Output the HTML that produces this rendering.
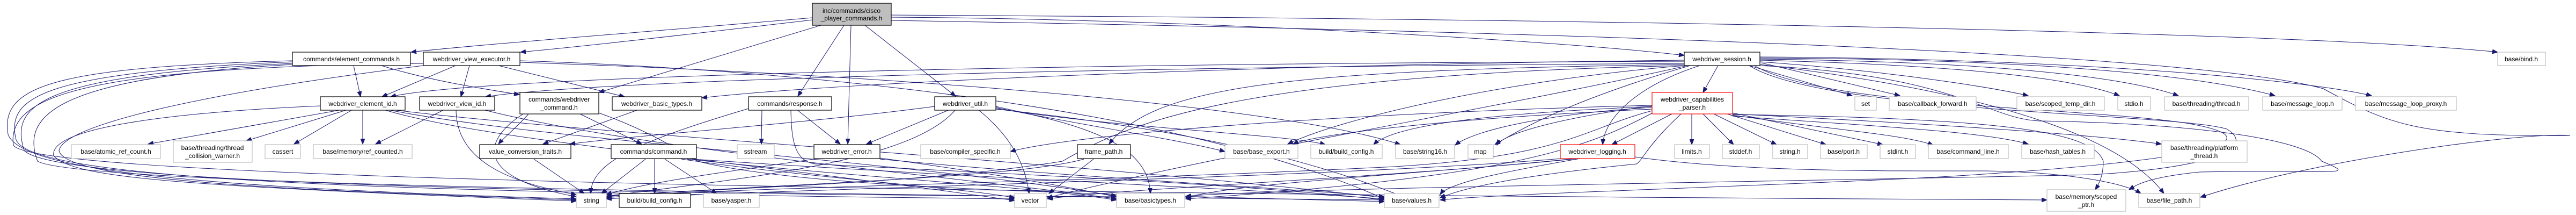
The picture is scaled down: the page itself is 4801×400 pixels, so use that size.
<!DOCTYPE html>
<html><head><meta charset="utf-8"><style>
html,body{margin:0;padding:0;background:#fff;}
svg{display:block;}
text{font-family:"Liberation Sans",sans-serif;font-size:12px;fill:#000;text-anchor:middle;}
.g{fill:#fff;stroke:#bfbfbf;stroke-width:1.2;}
.b{fill:#fff;stroke:#000;stroke-width:1.2;}
.r{fill:#fff;stroke:#ff0000;stroke-width:1.2;}
.e path{fill:none;stroke:#191970;stroke-width:1;marker-end:url(#a);}
</style></head><body>
<svg width="4801" height="400" viewBox="0 0 4801 400" xmlns="http://www.w3.org/2000/svg">
<defs><marker id="a" markerUnits="userSpaceOnUse" markerWidth="11" markerHeight="8" refX="10" refY="4" orient="auto"><path d="M0,0 L10,4 L0,8 z" fill="#191970" stroke="#191970"/></marker></defs>
<g class="e">
<!-- top node -->
<path d="M1514,33 C1200,60 900,82 766,97"/>
<path d="M1514,37 C1300,62 1100,85 970,97"/>
<path d="M1530,47 L1116,172"/>
<path d="M1573,47 L1487,179"/>
<path d="M1586,47 L1580,268"/>
<path d="M1612,47 L1781,179"/>
<path d="M1661,32 C2200,35 2900,75 3139,103"/>
<path d="M1661,28 C3000,35 4300,60 4655,97"/>
<path d="M1661,38 C3000,60 4100,100 4330,165 C4450,230 4500,255 4790,252 C4700,245 4300,300 4101,367"/>
<!-- element_commands -->
<path d="M659,122 L672,180"/>
<path d="M711,122 C800,150 900,165 968,176"/>
<path d="M545,113 C100,125 0,160 15,250 C40,320 400,350 1074,370"/>
<path d="M545,115 C80,135 10,180 30,260 C60,340 800,358 1891,370"/>
<path d="M545,118 C60,140 20,200 45,280 C100,340 1000,360 2081,366"/>
<path d="M545,120 C90,145 40,220 70,300 C150,345 1500,362 2580,372"/>
<!-- view executor -->
<path d="M849,122 L712,180"/>
<path d="M875,122 L859,180"/>
<path d="M929,122 L1164,180"/>
<path d="M789,122 C400,170 120,230 110,280 C120,340 600,355 1074,372"/>
<path d="M789,118 C200,125 10,170 25,270 C60,345 2500,365 3815,372"/>
<path d="M969,113 C1500,130 2200,200 2580,370"/>
<path d="M969,116 C1700,140 2400,200 2610,269"/>
<!-- element_id -->
<path d="M638,204 L276,268"/>
<path d="M648,204 L459,262"/>
<path d="M657,204 L548,268"/>
<path d="M676,204 L676,268"/>
<path d="M597,197 C300,210 90,240 100,290 C140,330 300,345 1074,374"/>
<path d="M715,204 C900,260 1300,290 1891,373"/>
<path d="M722,204 C1000,260 1700,300 2081,365"/>
<path d="M730,204 C1100,250 2000,300 2580,368"/>
<!-- view_id -->
<path d="M828,204 L700,268"/>
<path d="M850,204 C850,300 950,340 1074,362"/>
<path d="M900,204 C1200,280 1800,330 2081,370"/>
<!-- webdriver_command -->
<path d="M1081,212 L1196,268"/>
<path d="M985,212 C960,240 940,255 929,268"/>
<path d="M1116,210 C1200,240 1250,270 1300,300 C1500,350 2000,360 2580,375"/>
<path d="M975,212 C900,260 880,330 1074,366"/>
<!-- basic types / response / util -->
<path d="M1190,204 L1012,268"/>
<path d="M1395,202 C1200,260 1101,300 1101,360"/>
<path d="M1420,204 L1419,268"/>
<path d="M1485,204 L1566,268"/>
<path d="M1474,204 C1475,260 1480,300 1520,305 C1800,320 2300,340 2580,372"/>
<path d="M1770,204 L1615,268"/>
<path d="M1742,198 C1500,230 1200,250 1062,268"/>
<path d="M1781,204 C1700,300 1400,330 1130,365"/>
<path d="M1823,204 C1880,250 1910,300 1918,360"/>
<path d="M1856,198 C2000,230 2140,260 2144,360"/>
<path d="M1856,200 C2000,230 2200,260 2283,282"/>
<path d="M1856,202 C2100,240 2400,250 2470,269"/>
<path d="M1856,203 C2300,250 2500,320 2620,368"/>
<!-- command.h etc -->
<path d="M1203,296 L1121,360"/>
<path d="M1220,296 L1220,360"/>
<path d="M1239,296 L1336,360"/>
<path d="M1270,296 C1500,330 1800,350 1891,368"/>
<path d="M1280,296 C1600,330 1900,345 2081,372"/>
<path d="M1290,296 C1800,330 2300,350 2580,370"/>
<path d="M995,296 L1089,360"/>
<path d="M1517,296 C1350,320 1200,340 1130,362"/>
<path d="M1640,294 C1900,330 2000,350 2081,366"/>
<path d="M1640,296 C2000,330 2400,350 2580,366"/>
<path d="M2038,296 L1955,360"/>
<path d="M2020,296 C1900,330 1500,340 1130,365"/>
<!-- session -->
<path d="M3202,122 L3174,172"/>
<path d="M3168,122 C3050,160 2990,220 2987,269"/>
<path d="M3260,122 L3452,178"/>
<path d="M3283,117 L3541,178"/>
<path d="M3280,115 C3500,130 3700,160 3780,178"/>
<path d="M3280,112 C3600,120 3850,140 3950,178"/>
<path d="M3280,110 C3700,115 3950,140 4060,178"/>
<path d="M3280,108 C3800,110 4100,140 4240,178"/>
<path d="M3280,106 C3900,110 4300,150 4420,178"/>
<path d="M3150,122 C2950,180 2850,230 2786,269"/>
<path d="M3139,112 C2400,120 1600,150 1308,182"/>
<path d="M3139,114 C2000,118 900,140 728,180"/>
<path d="M3139,118 C2000,125 1100,150 905,180"/>
<path d="M3139,120 C2400,130 2150,160 2067,268"/>
<path d="M3139,122 C2800,150 2500,220 2400,268"/>
<path d="M3139,122 C2300,140 2100,230 1980,300 C1700,345 1300,350 1130,366"/>
<path d="M3145,122 C2800,200 2300,280 1952,368"/>
<path d="M3270,122 C3400,200 3900,200 4080,230 C4250,260 4120,300 3600,330 C3200,350 2800,360 2684,372"/>
<path d="M3260,122 C3400,210 4050,210 4150,240 C4200,270 4150,310 3900,325 C3200,340 2400,350 2210,365"/>
<path d="M3280,122 C3650,140 3700,220 3800,225 C4100,230 4300,260 4327,300 C4400,330 4350,315 4100,320 C4000,330 3980,345 3968,353"/>
<path d="M3280,120 C3700,170 3950,250 4033,360"/>
<!-- parser -->
<path d="M3116,212 L3004,269"/>
<path d="M3153,212 L3153,269"/>
<path d="M3174,212 L3231,269"/>
<path d="M3194,212 L3311,269"/>
<path d="M3219,212 L3403,269"/>
<path d="M3229,210 L3509,269"/>
<path d="M3229,214 C3400,240 3550,250 3603,270"/>
<path d="M3229,216 C3500,235 3700,245 3780,268"/>
<path d="M3229,212 C3600,230 3900,250 4028,268"/>
<path d="M3229,213 C3700,220 3900,240 3920,300 C3920,330 3910,345 3905,353"/>
<path d="M3079,197 C2900,220 2800,250 2790,270"/>
<path d="M3079,200 C2900,210 2750,240 2712,270"/>
<path d="M3079,198 C2800,210 2600,230 2560,269"/>
<path d="M3079,203 C2700,220 2450,250 2410,268"/>
<path d="M3079,196 C2500,210 2000,250 1883,282"/>
<path d="M3079,206 C2950,240 2920,290 2600,310 C2000,340 1300,350 1130,368"/>
<path d="M3133,212 C3070,270 3060,300 3050,305 C2900,320 2750,340 2684,368"/>
<path d="M3080,210 C2950,280 2800,330 2210,370"/>
<!-- logging -->
<path d="M2940,295 C2700,320 2300,340 2210,368"/>
<path d="M2935,295 C2600,330 2100,350 1952,370"/>
<path d="M2945,295 C2800,320 2700,340 2684,362"/>
<path d="M3047,292 C3250,320 3500,318 3700,318 C3850,320 3960,340 3990,360"/>
<path d="M2910,295 C2500,330 1500,350 1130,370"/>
</g>
<!-- nodes -->
<rect x="1514" y="6" width="147" height="41" fill="#bfbfbf" stroke="#000" stroke-width="1.2"/>
<text x="1587" y="24">inc/commands/cisco</text><text x="1587" y="38">_player_commands.h</text>

<rect class="b" x="545" y="97" width="220" height="25"/><text x="655" y="114">commands/element_commands.h</text>
<rect class="b" x="789" y="97" width="180" height="25"/><text x="879" y="114">webdriver_view_executor.h</text>
<rect class="b" x="3139" y="97" width="141" height="25"/><text x="3209" y="114">webdriver_session.h</text>
<rect class="g" x="4655" y="97" width="89" height="25"/><text x="4699" y="114">base/bind.h</text>

<rect class="b" x="597" y="180" width="158" height="25"/><text x="676" y="197">webdriver_element_id.h</text>
<rect class="b" x="782" y="180" width="140" height="25"/><text x="852" y="197">webdriver_view_id.h</text>
<rect class="b" x="969" y="172" width="147" height="40"/><text x="1042" y="189">commands/webdriver</text><text x="1042" y="204">_command.h</text>
<rect class="b" x="1141" y="180" width="167" height="25"/><text x="1224" y="197">webdriver_basic_types.h</text>
<rect class="b" x="1395" y="180" width="155" height="25"/><text x="1472" y="197">commands/response.h</text>
<rect class="b" x="1742" y="180" width="114" height="25"/><text x="1799" y="197">webdriver_util.h</text>
<rect class="r" x="3079" y="172" width="150" height="40"/><text x="3154" y="189">webdriver_capabilities</text><text x="3154" y="204">_parser.h</text>
<rect class="g" x="3457" y="180" width="40" height="25"/><text x="3477" y="197">set</text>
<rect class="g" x="3521" y="180" width="162" height="25"/><text x="3602" y="197">base/callback_forward.h</text>
<rect class="g" x="3759" y="180" width="163" height="25"/><text x="3840" y="197">base/scoped_temp_dir.h</text>
<rect class="g" x="3947" y="180" width="61" height="25"/><text x="3977" y="197">stdio.h</text>
<rect class="g" x="4034" y="180" width="157" height="25"/><text x="4112" y="197">base/threading/thread.h</text>
<rect class="g" x="4217" y="180" width="148" height="25"/><text x="4291" y="197">base/message_loop.h</text>
<rect class="g" x="4390" y="180" width="188" height="25"/><text x="4484" y="197">base/message_loop_proxy.h</text>

<rect class="g" x="133" y="269" width="166" height="26"/><text x="216" y="286">base/atomic_ref_count.h</text>
<rect class="g" x="323" y="262" width="147" height="40"/><text x="396" y="279">base/threading/thread</text><text x="396" y="294">_collision_warner.h</text>
<rect class="g" x="494" y="269" width="66" height="26"/><text x="527" y="286">cassert</text>
<rect class="g" x="584" y="269" width="184" height="26"/><text x="676" y="286">base/memory/ref_counted.h</text>
<rect class="b" x="894" y="269" width="170" height="26"/><text x="979" y="286">value_conversion_traits.h</text>
<rect class="b" x="1139" y="269" width="159" height="26"/><text x="1218" y="286">commands/command.h</text>
<rect class="g" x="1374" y="269" width="69" height="26"/><text x="1408" y="286">sstream</text>
<rect class="b" x="1517" y="269" width="123" height="26"/><text x="1578" y="286">webdriver_error.h</text>
<rect class="g" x="1716" y="269" width="167" height="26"/><text x="1799" y="286">base/compiler_specific.h</text>
<rect class="b" x="2008" y="269" width="99" height="26"/><text x="2057" y="286">frame_path.h</text>
<rect class="g" x="2283" y="269" width="136" height="26"/><text x="2351" y="286">base/base_export.h</text>
<rect class="g" x="2443" y="269" width="133" height="26"/><text x="2509" y="286">build/build_config.h</text>
<rect class="g" x="2601" y="269" width="110" height="26"/><text x="2656" y="286">base/string16.h</text>
<rect class="g" x="2736" y="269" width="47" height="26"/><text x="2759" y="286">map</text>
<rect class="r" x="2908" y="269" width="139" height="26"/><text x="2977" y="286">webdriver_logging.h</text>
<rect class="g" x="3121" y="269" width="65" height="26"/><text x="3153" y="286">limits.h</text>
<rect class="g" x="3210" y="269" width="69" height="26"/><text x="3244" y="286">stddef.h</text>
<rect class="g" x="3304" y="269" width="65" height="26"/><text x="3336" y="286">string.h</text>
<rect class="g" x="3393" y="269" width="87" height="26"/><text x="3436" y="286">base/port.h</text>
<rect class="g" x="3504" y="269" width="66" height="26"/><text x="3537" y="286">stdint.h</text>
<rect class="g" x="3594" y="269" width="149" height="26"/><text x="3668" y="286">base/command_line.h</text>
<rect class="g" x="3768" y="269" width="135" height="26"/><text x="3835" y="286">base/hash_tables.h</text>
<rect class="g" x="4029" y="262" width="159" height="40"/><text x="4108" y="279">base/threading/platform</text><text x="4108" y="294">_thread.h</text>

<rect class="g" x="1074" y="360" width="56" height="26"/><text x="1102" y="377">string</text>
<rect class="b" x="1154" y="360" width="133" height="26"/><text x="1220" y="377">build/build_config.h</text>
<rect class="g" x="1311" y="360" width="104" height="26"/><text x="1363" y="377">base/yasper.h</text>
<rect class="g" x="1891" y="360" width="59" height="26"/><text x="1920" y="377">vector</text>
<rect class="g" x="2081" y="360" width="127" height="26"/><text x="2144" y="377">base/basictypes.h</text>
<rect class="g" x="2580" y="360" width="102" height="26"/><text x="2631" y="377">base/values.h</text>
<rect class="g" x="3815" y="353" width="147" height="40"/><text x="3888" y="370">base/memory/scoped</text><text x="3888" y="385">_ptr.h</text>
<rect class="g" x="3986" y="360" width="114" height="26"/><text x="4043" y="377">base/file_path.h</text>
</svg>
</body></html>
